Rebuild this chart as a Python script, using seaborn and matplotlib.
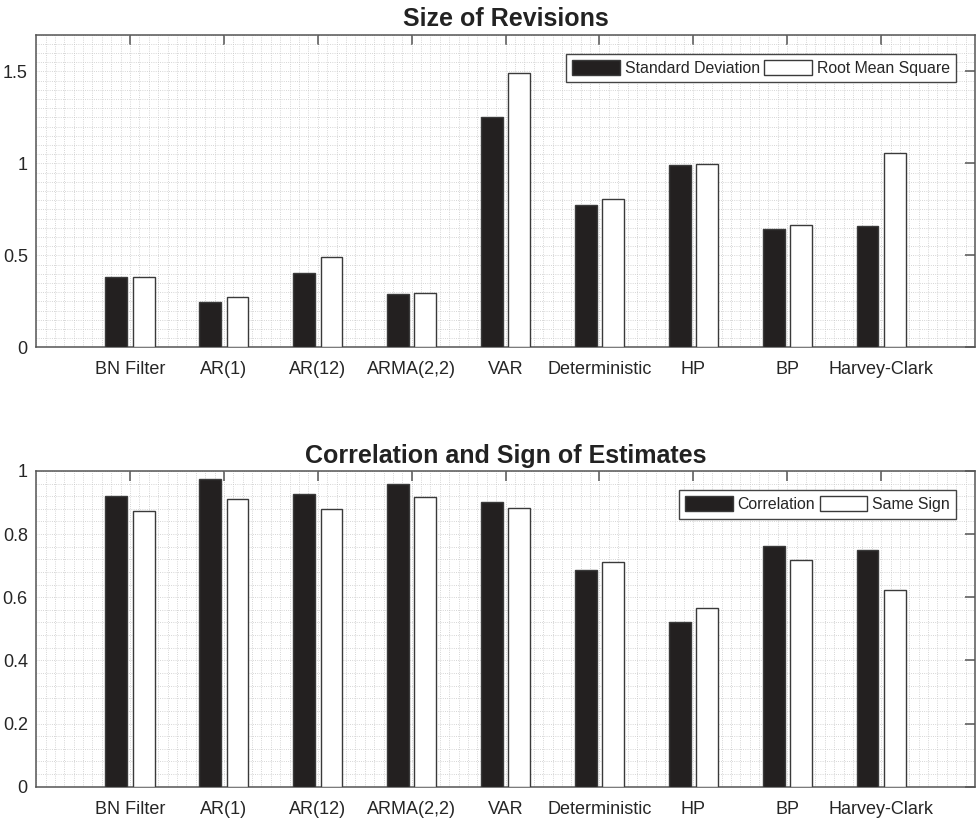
import pandas as pd
import seaborn as sns
from matplotlib import pyplot as plt
from matplotlib.ticker import MultipleLocator

methods = ["BN Filter", "AR(1)", "AR(12)", "ARMA(2,2)", "VAR",
           "Deterministic", "HP", "BP", "Harvey-Clark"]

std_dev = [0.385, 0.246, 0.405, 0.289, 1.252, 0.773, 0.993, 0.643, 0.658]
rms = [0.385, 0.273, 0.493, 0.297, 1.493, 0.808, 0.997, 0.663, 1.058]

correlation = [0.919, 0.975, 0.928, 0.958, 0.901, 0.687, 0.521, 0.762, 0.750]
same_sign = [0.872, 0.910, 0.878, 0.917, 0.883, 0.711, 0.567, 0.717, 0.622]


def long_df(a, b, name_a, name_b):
    return pd.DataFrame({"method": methods * 2,
                         "value": a + b,
                         "series": [name_a] * len(methods) + [name_b] * len(methods)})


def draw_panel(ax, df, names, title, ylim, ymajor, yminor):
    sns.barplot(data=df, x="method", y="value", hue="series", ax=ax,
                order=methods, hue_order=names,
                palette={names[0]: "#231f20", names[1]: "white"},
                width=0.58, gap=0.2, edgecolor="#3a3a3a", linewidth=1.0,
                errorbar=None, zorder=3)
    ax.set_xlim(-1, 9)
    ax.set_ylim(*ylim)
    ax.yaxis.set_major_locator(MultipleLocator(ymajor))
    ax.yaxis.set_minor_locator(MultipleLocator(yminor))
    ax.xaxis.set_minor_locator(MultipleLocator(0.1))
    ax.set_yticklabels([f"{v:g}" for v in ax.get_yticks()])
    ax.grid(which="both", linestyle=":", color="#c8c8c8", linewidth=0.6, zorder=0)
    ax.set_axisbelow(True)
    ax.tick_params(which="major", direction="in", length=7, width=1.1,
                   top=True, right=True, colors="#555555",
                   labelcolor="#262626", labelsize=13)
    ax.tick_params(axis="x", which="major", pad=10)
    ax.tick_params(axis="y", which="major", pad=6)
    ax.tick_params(which="minor", length=0)
    for sp in ax.spines.values():
        sp.set_color("#555555")
        sp.set_linewidth(1.1)
    ax.set_xlabel("")
    ax.set_ylabel("")
    ax.set_title(title, fontsize=18, fontweight="bold", color="#222222", pad=6)
    leg = ax.legend(loc="upper right", ncol=2, fontsize=11.4, frameon=True,
                    fancybox=False, edgecolor="#444444", framealpha=1,
                    handlelength=3.0, handleheight=1.1, columnspacing=0.3,
                    handletextpad=0.3, borderpad=0.4, borderaxespad=1.2)
    leg.get_frame().set_linewidth(1.0)


sns.set_style("white")
plt.rcParams["font.family"] = ["Liberation Sans", "DejaVu Sans"]

fig = plt.figure(figsize=(9.76, 8.18), dpi=100)
ax1 = fig.add_axes([0.037, 0.5754, 0.962, 0.3822])
ax2 = fig.add_axes([0.037, 0.0383, 0.962, 0.386])

draw_panel(ax1, long_df(std_dev, rms, "Standard Deviation", "Root Mean Square"),
           ["Standard Deviation", "Root Mean Square"], "Size of Revisions",
           (0, 1.7), 0.5, 0.05)
draw_panel(ax2, long_df(correlation, same_sign, "Correlation", "Same Sign"),
           ["Correlation", "Same Sign"], "Correlation and Sign of Estimates",
           (0, 1.0), 0.2, 0.04)

fig.savefig("out.png", dpi=100, facecolor="white")
